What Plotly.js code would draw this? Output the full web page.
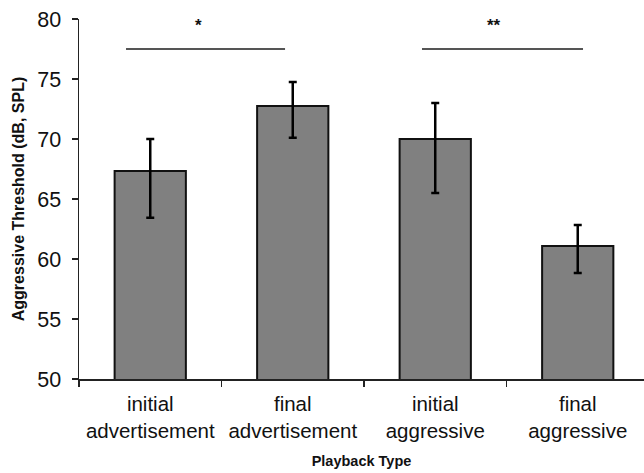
<!DOCTYPE html>
<html>
<head>
<meta charset="utf-8">
<script src="https://cdn.plot.ly/plotly-3.0.1.min.js"></script>
<style>html,body{margin:0;padding:0;background:#fff;}#chart{width:644px;height:473px;}</style>
</head>
<body>
<div id="chart"></div>
<script>
// Data
const categories = ['initial<br>advertisement', 'final<br>advertisement', 'initial<br>aggressive', 'final<br>aggressive'];
const thresholds = [67.33, 72.75, 70.0, 61.08];
const errUpper = [2.67, 2.0, 3.0, 1.75];
const errLower = [3.9, 2.65, 4.5, 2.25];
const yTicks = [50, 55, 60, 65, 70, 75, 80];
const yRange = [50, 80];
// significance brackets: start/end (category index units), level, label
const sigStart = [-0.17, 1.907];
const sigEnd = [0.946, 3.037];
const sigLevel = [77.5, 77.5];
const sigLabelX = [0.342, 2.41];
const sigLabelY = [80.45, 80.45];
const sigLabels = ['*', '**'];

const font = 'Liberation Sans, Arial, Helvetica, sans-serif';

const trace = {
  type: 'bar',
  x: categories,
  y: thresholds,
  marker: {color: '#808080', line: {color: '#111', width: 2}},
  error_y: {type: 'data', symmetric: false, array: errUpper, arrayminus: errLower,
            color: '#000', thickness: 2.5, width: 4},
  hoverinfo: 'none'
};

const shapes = sigStart.map((s, i) => ({
  type: 'line', xref: 'x', yref: 'y', x0: s, x1: sigEnd[i], y0: sigLevel[i], y1: sigLevel[i],
  line: {color: '#555', width: 2}
}));
const annotations = sigLabels.map((t, i) => ({
  xref: 'x', yref: 'paper', x: sigLabelX[i],
  y: (sigLabelY[i] - yRange[0]) / (yRange[1] - yRange[0]),
  text: '<b>' + t + '</b>', showarrow: false,
  font: {family: font, size: 17, color: '#111'}, yanchor: 'top'
}));

const layout = {
  width: 644, height: 473,
  margin: {l: 79, r: 0, t: 19, b: 94},
  paper_bgcolor: '#fff', plot_bgcolor: '#fff',
  bargap: 0.5,
  showlegend: false,
  xaxis: {
    type: 'category', range: [-0.5, 3.465],
    showline: true, linecolor: '#222', linewidth: 1.5,
    ticks: 'outside', tickson: 'boundaries', ticklen: 6, tickcolor: '#222', tickwidth: 1.5,
    showgrid: false, zeroline: false,
    tickfont: {family: font, size: 20.5, color: '#111'},
    ticklabelstandoff: 6,
    title: {text: '<b>Playback Type</b>', font: {family: font, size: 14.5, color: '#111'}, standoff: 15}
  },
  yaxis: {
    range: yRange, tickvals: yTicks, ticktext: yTicks.map(String),
    showline: true, linecolor: '#222', linewidth: 1.5,
    ticks: 'outside', ticklen: 6, tickcolor: '#222', tickwidth: 1.5,
    showgrid: false, zeroline: false,
    tickfont: {family: font, size: 21.5, color: '#111'},
    ticklabelstandoff: 6,
    title: {text: '<b>Aggressive Threshold (dB, SPL)</b>', font: {family: font, size: 16, color: '#111'}, standoff: 8}
  },
  shapes: shapes,
  annotations: annotations
};

Plotly.newPlot('chart', [trace], layout, {staticPlot: true, displayModeBar: false});
</script>
</body>
</html>
